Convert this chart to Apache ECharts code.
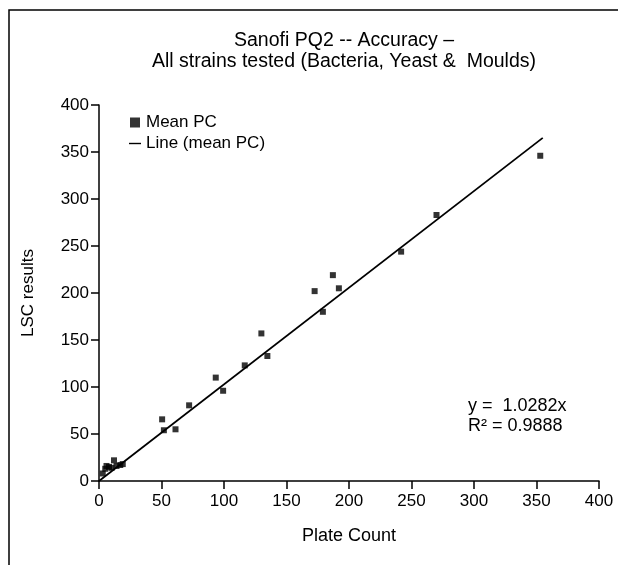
<!DOCTYPE html>
<html>
<head>
<meta charset="utf-8">
<script src="https://cdn.jsdelivr.net/npm/echarts@6/dist/echarts.min.js"></script>
<style>html,body{margin:0;padding:0;background:#fff}#c{width:618px;height:565px}</style>
</head>
<body>
<div id="c"></div>
<script>
const plateCount = [3, 5, 6, 8, 10, 12, 14, 17, 19, 50.5, 51.9, 61.2, 72.1, 93.4, 99.3, 116.6, 129.9, 134.7, 172.5, 179.1, 187.1, 191.9, 241.7, 270, 353];
const lscResults = [8, 13, 16, 15, 14, 22, 16, 17, 18, 65.6, 54, 55, 80.5, 110, 96, 123, 157, 133, 202, 180, 219, 205, 244, 283, 346];
const slope = 1.0282;
const lineX = [0, 355];
const xTicks = {min: 0, max: 400, interval: 50};
const yTicks = {min: 0, max: 400, interval: 50};
const titleLines = ['Sanofi PQ2 -- Accuracy \u2013', 'All strains tested (Bacteria, Yeast &  Moulds)'];
const eqText = ['y =  1.0282x', 'R\u00b2 = 0.9888'];

const FONT = 'Liberation Sans, Arial, sans-serif';
const chart = echarts.init(document.getElementById('c'));
const axisCommon = {
  axisLine: {show: true, onZero: false, lineStyle: {color: '#000', width: 1.5}},
  axisTick: {show: true, length: 8, lineStyle: {color: '#000', width: 1.5}},
  splitLine: {show: false},
  nameLocation: 'middle'
};
chart.setOption({
  animation: false,
  backgroundColor: '#fff',
  title: {
    text: titleLines.join('\n'),
    left: 339, top: 25, textAlign: 'center',
    textStyle: {color: '#000', fontSize: 19.5, fontWeight: 'normal', fontFamily: FONT, lineHeight: 21}
  },
  grid: {left: 99, right: 19, top: 105, bottom: 84},
  legend: {
    left: 129, top: 114, padding: 0, orient: 'vertical', itemWidth: 12, itemHeight: 10, itemGap: 4,
    textStyle: {color: '#000', fontSize: 17, fontFamily: FONT},
    data: [
      {name: 'Mean PC', icon: 'path://M0,0 L10,0 L10,10 L0,10 Z'},
      {name: 'Line (mean PC)', icon: 'path://M0,0 L12,0 L12,1.4 L0,1.4 Z'}
    ]
  },
  xAxis: Object.assign({
    type: 'value', name: 'Plate Count', nameGap: 46,
    min: xTicks.min, max: xTicks.max, interval: xTicks.interval,
    axisLabel: {color: '#000', fontSize: 17, fontFamily: FONT, margin: 12},
    nameTextStyle: {color: '#000', fontSize: 18, fontFamily: FONT}
  }, axisCommon),
  yAxis: Object.assign({
    type: 'value', name: 'LSC results', nameGap: 62,
    min: yTicks.min, max: yTicks.max, interval: yTicks.interval,
    axisLabel: {color: '#000', fontSize: 17, fontFamily: FONT, margin: 10},
    nameTextStyle: {color: '#000', fontSize: 17, fontFamily: FONT}
  }, axisCommon),
  series: [
    {
      name: 'Mean PC', type: 'scatter', symbol: 'rect', symbolSize: 6,
      itemStyle: {color: '#000'},
      data: plateCount.map((x, i) => [x, lscResults[i]])
    },
    {
      name: 'Line (mean PC)', type: 'line', showSymbol: false, symbol: 'none',
      lineStyle: {color: '#000', width: 1.8},
      itemStyle: {color: '#000'},
      data: lineX.map(x => [x, slope * x])
    }
  ],
  graphic: [
    {type: 'polyline', shape: {points: [[9, 570], [9, 10], [620, 10]]}, style: {stroke: '#000', lineWidth: 1.5, fill: null}},
    {type: 'text', left: 468, top: 396, style: {text: eqText.join('\n'), fill: '#000', fontSize: 18, fontFamily: FONT, lineHeight: 20}}
  ]
});
</script>
</body>
</html>
